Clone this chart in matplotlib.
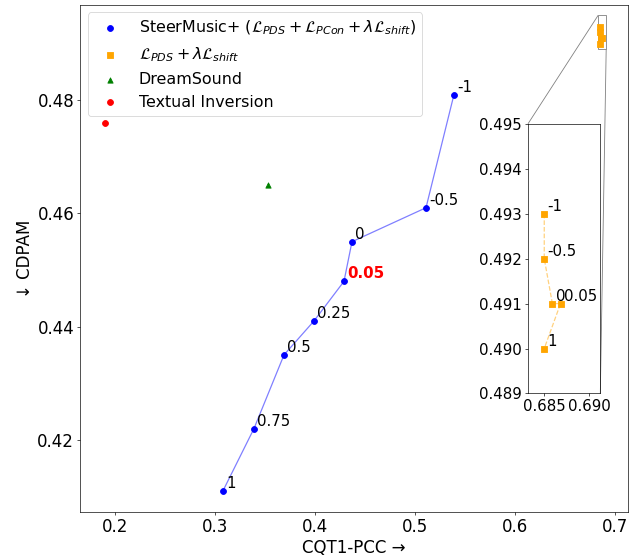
import matplotlib
matplotlib.use('Agg')
import matplotlib.pyplot as plt
from mpl_toolkits.axes_grid1.inset_locator import mark_inset

# SteerMusic+ (lambda sweep)
steer_labels = ['1', '0.75', '0.5', '0.25', '0.05', '0', '-0.5', '-1']
steer_x = [0.308, 0.339, 0.369, 0.399, 0.429, 0.437, 0.511, 0.539]
steer_y = [0.411, 0.422, 0.435, 0.441, 0.448, 0.455, 0.461, 0.481]

# L_PDS + lambda L_shift
pds_labels = ['-1', '-0.5', '0', '0.05', '1']
pds_x = [0.685, 0.685, 0.6859, 0.6868, 0.685]
pds_y = [0.493, 0.492, 0.491, 0.491, 0.490]

dream_x = [0.353]
dream_y = [0.465]
ti_x = [0.19]
ti_y = [0.476]

main_xticks = [0.2, 0.3, 0.4, 0.5, 0.6, 0.7]
main_yticks = [0.42, 0.44, 0.46, 0.48]
ins_xticks = [0.685, 0.690]
ins_yticks = [0.489, 0.490, 0.491, 0.492, 0.493, 0.494, 0.495]

DPI = 60
fig = plt.figure(figsize=(641 / DPI, 556 / DPI), dpi=DPI)
ax = fig.add_axes([0.1248, 0.0786, 0.8549, 0.9133])

ax.plot(steer_x, steer_y, color='blue', alpha=0.5)
ax.scatter(steer_x, steer_y, color='blue', s=50, zorder=3,
           label=r'SteerMusic+ ($\mathcal{L}_{PDS} + \mathcal{L}_{PCon} + \lambda \mathcal{L}_{shift}$)')
ax.plot(pds_x, pds_y, color='orange', alpha=0.5, linestyle='--')
ax.scatter(pds_x, pds_y, color='orange', marker='s', s=50, zorder=3,
           label=r'$\mathcal{L}_{PDS} + \lambda \mathcal{L}_{shift}$')
ax.scatter(dream_x, dream_y, color='green', marker='^', s=40, label='DreamSound')
ax.scatter(ti_x, ti_y, color='red', s=50, label='Textual Inversion')

for x, y, t in zip(steer_x, steer_y, steer_labels):
    if t == '0.05':
        ax.annotate(t, (x, y), xytext=(4, 3.5), textcoords='offset points',
                    fontsize=18, color='red', fontweight='bold')
    else:
        ax.annotate(t, (x, y), xytext=(4, 3.5), textcoords='offset points', fontsize=18)

ax.set_xlim(0.165, 0.713)
ax.set_ylim(0.4072, 0.4969)
ax.set_xticks(main_xticks)
ax.set_yticks(main_yticks)
ax.set_xlabel('CQT1-PCC →', fontsize=20)
ax.set_ylabel('↓ CDPAM', fontsize=20)
ax.tick_params(labelsize=20)
ax.legend(loc='upper left', fontsize=19)

axins = ax.inset_axes([0.8175, 0.234, 0.132, 0.531])
axins.plot(pds_x, pds_y, color='orange', alpha=0.5, linestyle='--')
axins.scatter(pds_x, pds_y, color='orange', marker='s', s=50, zorder=3)
for x, y, t in zip(pds_x, pds_y, pds_labels):
    axins.annotate(t, (x, y), xytext=(4, 3.5), textcoords='offset points', fontsize=18)
axins.set_xlim(0.6832, 0.6912)
axins.set_ylim(0.489, 0.495)
axins.set_xticks(ins_xticks)
axins.set_yticks(ins_yticks)
axins.tick_params(labelsize=18)
mark_inset(ax, axins, loc1=2, loc2=4, fc='none', ec='0.5')

fig.savefig('out.png', dpi=DPI)
